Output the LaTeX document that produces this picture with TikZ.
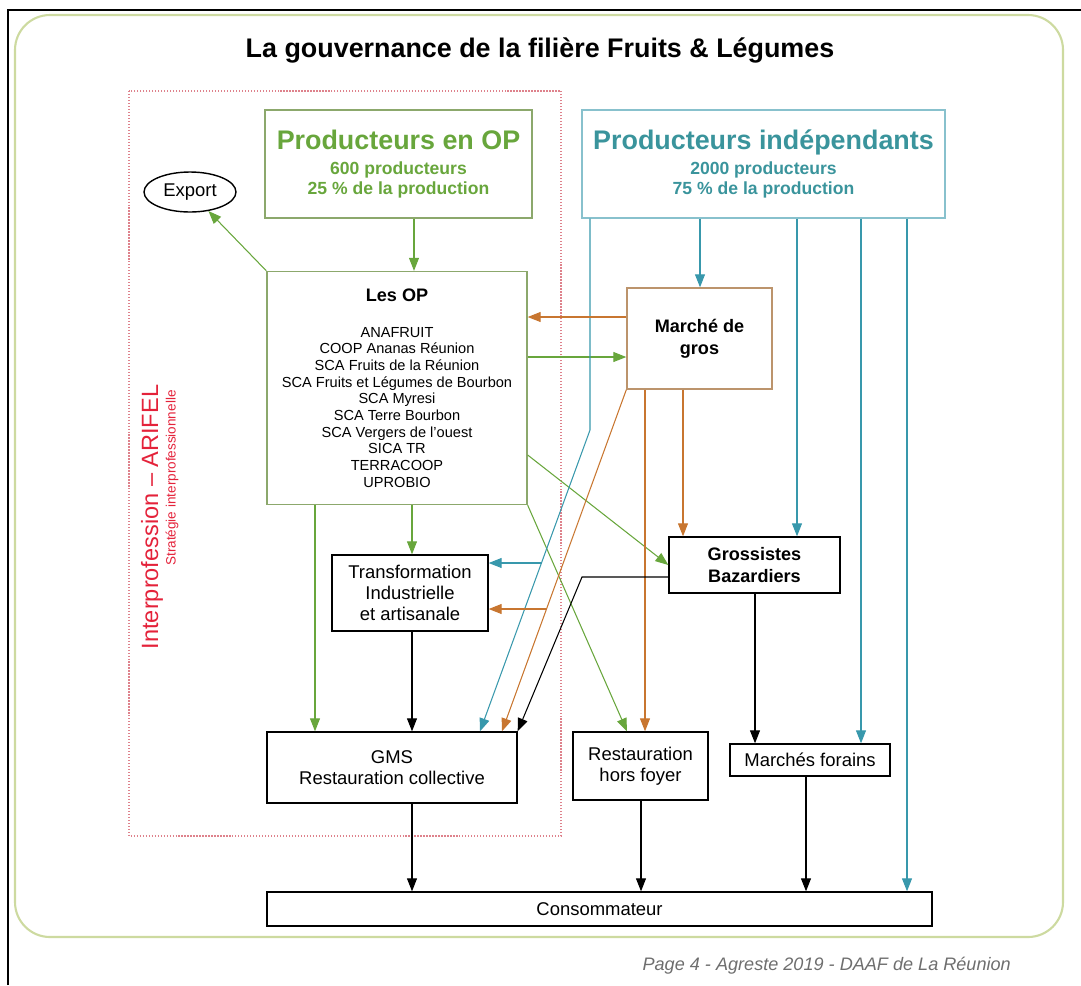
\documentclass[tikz,border=0pt]{standalone}
\usepackage{fontspec}
\setmainfont{Liberation Sans}
\usetikzlibrary{arrows.meta, shapes.geometric}

\definecolor{opgreen}{RGB}{104,166,60}
\definecolor{opframe}{RGB}{140,168,108}
\definecolor{indteal}{RGB}{56,152,172}
\definecolor{indtext}{RGB}{58,148,156}
\definecolor{grosbrown}{RGB}{200,118,48}
\definecolor{grosframe}{RGB}{188,148,108}
\definecolor{arifred}{RGB}{228,34,58}
\definecolor{dotred}{RGB}{222,130,140}
\definecolor{pageframe}{RGB}{205,218,160}
\definecolor{footgray}{RGB}{110,110,110}

\begin{document}
\begin{tikzpicture}[x=0.02cm, y=-0.02cm,
  box/.style={draw, rectangle, line width=0.8pt, align=center, inner sep=0pt,
    font=\fontsize{10.5}{12}\selectfont},
  link/.style={line width=0.6pt, -{Triangle[length=0.26cm, width=0.2cm]}},
  glink/.style={link, opgreen},
  tlink/.style={link, indteal},
  blink/.style={link, grosbrown},
  klink/.style={link, black}]

  \useasboundingbox (0,0) rectangle (1081,985);

  % page edges and rounded frame
  \draw[line width=1.5pt] (8,985) -- (8,10) -- (1081,10);
  \draw[pageframe, line width=1.2pt, rounded corners=0.7cm] (15,15) rectangle (1063,937);

  % title
  \node[font=\fontsize{15.3}{18}\selectfont\bfseries] (title) at (540,50)
    {La gouvernance de la filière Fruits \& Légumes};

  % interprofession frame
  \draw[dotred, densely dotted, line width=0.7pt] (129,91) rectangle (561,836);
  \node[rotate=90, text=arifred, font=\fontsize{13.4}{15}\selectfont] (arifel) at (152,517)
    {Interprofession – ARIFEL};
  \node[rotate=90, text=arifred, font=\fontsize{7.7}{9}\selectfont] (strat) at (172,478)
    {Stratégie interprofessionnelle};

  % producers
  \node[box, draw=opframe, text=opgreen, minimum width=5.34cm, minimum height=2.16cm,
    font=\fontsize{10}{11.4}\selectfont\bfseries] (prodop) at (398.5,164)
    {{\fontsize{15.3}{18}\selectfont Producteurs en OP}\\[3pt] 600 producteurs\\ 25 \% de la production};
  \node[box, draw=indteal!60, text=indtext, minimum width=7.26cm, minimum height=2.16cm,
    font=\fontsize{10}{11.4}\selectfont\bfseries] (prodind) at (763.5,164)
    {{\fontsize{15.3}{18}\selectfont Producteurs indépendants}\\[3pt] 2000 producteurs\\ 75 \% de la production};

  % export
  \node[draw, ellipse, line width=0.8pt, minimum width=1.84cm, minimum height=0.8cm, inner sep=0pt,
    font=\fontsize{10.5}{12}\selectfont] (export) at (190,192) {Export};

  % the OP
  \node[box, draw=opframe, minimum width=5.2cm, minimum height=4.66cm,
    font=\fontsize{8.3}{9.5}\selectfont] (lesop) at (397,388)
    {{\fontsize{10.3}{12}\selectfont\bfseries Les OP}\\[11pt]
     ANAFRUIT\\ COOP Ananas Réunion\\ SCA Fruits de la Réunion\\
     SCA Fruits et Légumes de Bourbon\\ SCA Myresi\\ SCA Terre Bourbon\\
     SCA Vergers de l'ouest\\ SICA TR\\ TERRACOOP\\ UPROBIO};

  % markets and wholesalers
  \node[box, draw=grosframe, minimum width=2.9cm, minimum height=2.02cm,
    font=\fontsize{10.3}{12.5}\selectfont\bfseries] (marche) at (699.5,338.5) {Marché de\\ gros};
  \node[box, minimum width=3.42cm, minimum height=1.12cm,
    font=\fontsize{10.3}{12.5}\selectfont\bfseries] (gross) at (754.5,565) {Grossistes\\ Bazardiers};

  % downstream boxes
  \node[box, minimum width=3.12cm, minimum height=1.52cm] (transfo) at (410,593)
    {Transformation\\ Industrielle\\ et artisanale};
  \node[box, minimum width=5.0cm, minimum height=1.42cm] (gms) at (392,767.5)
    {GMS\\ Restauration collective};
  \node[box, minimum width=2.7cm, minimum height=1.36cm] (resto) at (640.5,766)
    {Restauration\\ hors foyer};
  \node[box, minimum width=3.2cm, minimum height=0.64cm] (forains) at (810,760) {Marchés forains};
  \node[box, minimum width=13.3cm, minimum height=0.68cm] (conso) at (599.5,909) {Consommateur};

  % green flows from the OP
  \draw[glink] (414,0 |- prodop.south) -- (414,0 |- lesop.north);
  \draw[glink] (lesop.north west) -- (export);
  \draw[glink] (lesop.east |- 0,357) -- (marche.west |- 0,357);
  \draw[glink] (lesop.east |- 0,455) -- (gross.west);
  \draw[glink] (lesop.south east) -- (627,0 |- resto.north);
  \draw[glink] (315,0 |- lesop.south) -- (315,0 |- gms.north);
  \draw[glink] (412,0 |- lesop.south) -- (412,0 |- transfo.north);

  % teal flows from independent producers
  \draw[tlink] (700,0 |- prodind.south) -- (700,0 |- marche.north);
  \draw[tlink] (797,0 |- prodind.south) -- (797,0 |- gross.north);
  \draw[tlink] (861,0 |- prodind.south) -- (861,0 |- forains.north);
  \draw[tlink] (907,0 |- prodind.south) -- (907,0 |- conso.north);
  \draw[tlink] (590,0 |- prodind.south) -- (590,430) -- (480,0 |- gms.north);
  \coordinate (tbranch) at (541.6,563);
  \draw[tlink] (tbranch) -- (transfo.east |- tbranch);

  % brown flows from the wholesale market
  \draw[blink] (marche.west |- 0,317) -- (lesop.east |- 0,317);
  \draw[blink] (683,0 |- marche.south) -- (683,0 |- gross.north);
  \draw[blink] (645,0 |- marche.south) -- (645,0 |- resto.north);
  \draw[blink] (marche.south west) -- (502,0 |- gms.north);
  \coordinate (bbranch) at (547,609);
  \draw[blink] (bbranch) -- (transfo.east |- bbranch);

  % black flows
  \draw[klink] (412,0 |- transfo.south) -- (412,0 |- gms.north);
  \draw[klink] (gross.west |- 0,577) -- (582,577) -- (gms.north east);
  \draw[klink] (755,0 |- gross.south) -- (755,0 |- forains.north);
  \draw[klink] (412,0 |- gms.south) -- (412,0 |- conso.north);
  \draw[klink] (641,0 |- resto.south) -- (641,0 |- conso.north);
  \draw[klink] (806,0 |- forains.south) -- (806,0 |- conso.north);

  % footer
  \node[anchor=east, text=footgray, font=\fontsize{10.3}{12}\selectfont\itshape] (page) at (1017,966)
    {Page 4 - Agreste 2019 - DAAF de La Réunion};

\end{tikzpicture}
\end{document}
